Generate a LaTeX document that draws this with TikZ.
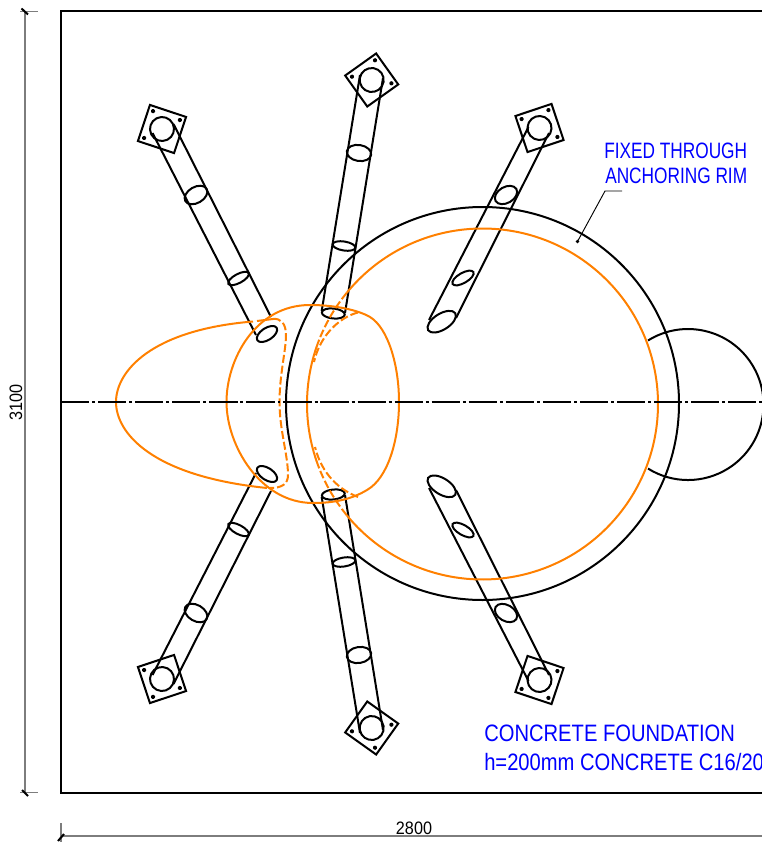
\documentclass[tikz,border=0pt]{standalone}
\usepackage{graphicx}
\usepackage{fontspec}
\setmainfont{Liberation Sans}
\definecolor{cadorange}{RGB}{255,128,0}
\definecolor{dimgray}{RGB}{125,125,125}
\tikzset{
  main/.style={line width=1.5pt,black},
  orangeline/.style={line width=1.5pt,cadorange},
  orangedash/.style={line width=1.5pt,cadorange,dash pattern=on 6pt off 2.2pt},
  axisline/.style={line width=1.5pt,black,dash pattern=on 21.2pt off 2.2pt on 2.2pt off 2.2pt},
  dimline/.style={line width=1pt,dimgray},
  dimtick/.style={line width=1.5pt,black},
  note/.style={text=blue,inner sep=0pt,anchor=base west,font=\fontsize{16.7}{18}\selectfont},
  bignote/.style={text=blue,inner sep=0pt,anchor=base west,font=\fontsize{17.8}{20}\selectfont},
  dimtext/.style={text=black,inner sep=0pt,font=\fontsize{13.5}{15}\selectfont},
}
\newcommand\ring[5]{\draw[main,shift={(#1,#2)},rotate=#3] (0,0) ellipse[x radius=#4,y radius=#5];}
\newcommand\footplate[3]{%
  \begin{scope}[shift={(#1,#2)},rotate=#3]
    \draw[main] (26.9,0) -- (0,26.9) -- (-26.9,0) -- (0,-26.9) -- cycle;
    \draw[main] (0,0) circle[radius=12];
    \fill (-20,0) circle[radius=2.1];
    \fill (0,20) circle[radius=2.1];
    \fill (0,-20) circle[radius=2.1];
  \end{scope}}
\begin{document}
\begin{tikzpicture}[x=.75pt,y=-.75pt]
\useasboundingbox (0,0) rectangle (762,842);
\clip (0,0) rectangle (762,842);
% frame
\draw[main] (780,11.5) -- (61,11.5) -- (61,792.5) -- (780,792.5);
% dimensions
\coordinate (dv1) at (25,11.5);
\coordinate (dv2) at (25,792.8);
\coordinate (dh1) at (61,836);
\coordinate (dh2) at (780,836);
\draw[dimline] (dv1) -- (dv2);
\draw[dimline] (20,11.5) -- (38,11.5);
\draw[dimline] (20,792.8) -- (38,792.8);
\draw[dimline] (dh1) -- (dh2);
\draw[dimline] (61,823) -- (61,842);
\draw[dimtick] (21.5,8.5) -- (28,14.5);
\draw[dimtick] (22,790) -- (28,796);
\draw[dimtick] (58,841) -- (64,834);
\node[dimtext,rotate=90] (lblv) at (16,402) {\scalebox{.9}[1]{3100}};
\node[dimtext,anchor=base] (lblh) at (414,834) {\scalebox{.9}[1]{2800}};
% circles
\draw[main] (482.5,403.5) circle[radius=196.5];
\draw[main] (648,340.5) arc[start angle=-122,end angle=122,radius=75.5];
% tubes
\foreach \m in {1,-1}{
\begin{scope}[shift={(0,404)},yscale=\m,shift={(0,-404)}]
  \footplate{162}{129}{-63.4}
  \draw[main] (152.5,133) -- (256,335);
  \draw[main] (173.5,124) -- (271,317);
  \ring{196}{195}{30}{12.3}{8}
  \ring{238.5}{278.5}{28}{11.5}{4.5}
  \ring{267}{334}{33}{11.5}{6}
  \footplate{371.7}{80}{-99.5}
  \draw[main] (360,75) -- (321.7,311);
  \draw[main] (383,78) -- (345,313);
  \ring{359}{153}{-9}{12.3}{8}
  \ring{344}{246}{-9}{11.5}{4.5}
  \ring{333.3}{313.5}{-6}{11.5}{5}
  \footplate{539.5}{128}{-116.5}
  \draw[main] (528.5,127) -- (429,320);
  \draw[main] (549,133) -- (456,318);
  \ring{506}{195}{30}{12}{8}
  \ring{463}{278}{30}{12}{5}
  \ring{441.7}{321.7}{32}{16}{8}
\end{scope}}
% orange
\draw[orangeline] (482.5,404) ++(219.3:175.5) arc[start angle=219.3,end angle=500.7,radius=175.5];
\draw[orangeline] (482.5,404) ++(201.5:175.5) arc[start angle=201.5,end angle=158.5,radius=175.5];
\draw[orangedash] (482.5,404) ++(219.3:175.5) arc[start angle=219.3,end angle=201.5,radius=175.5];
\draw[orangedash] (482.5,404) ++(140.7:175.5) arc[start angle=140.7,end angle=158.5,radius=175.5];
\draw[orangedash] (358,312.5) .. controls (340,317) and (320,335) .. (314,362);
\draw[orangedash] (358,497) .. controls (340,490) and (322,475) .. (315,447);
\draw[orangeline] (226.5,402) .. controls (226.5,360) and (255,305) .. (310,305)
  .. controls (335,305) and (358,310) .. (370,317)
  .. controls (388,328) and (399,365) .. (399,402)
  .. controls (399,440) and (388,478) .. (367,490)
  .. controls (352,499) and (335,503) .. (313,503)
  .. controls (260,503) and (226.5,445) .. cycle;
\draw[orangeline] (253,321.5) .. controls (150,330) and (116,372) .. (116,402)
  .. controls (116,432) and (150,476) .. (267,488);
\draw[orangeline] (257,321) -- (273,319);
\draw[orangedash] (273,319) .. controls (281,318) and (286,324) .. (286,335)
  .. controls (286,350) and (279.5,375) .. (279.5,402)
  .. controls (279.5,430) and (288,455) .. (288,475)
  .. controls (288,484) and (282,488) .. (270,488);
% axis
\draw[axisline] (61,402) -- (780,402);
% leader
\coordinate (ldA) at (622,191);
\coordinate (ldB) at (605,191);
\coordinate (ldC) at (577.5,241.5);
\draw[line width=.7pt] (ldA) -- (ldB) -- (ldC);
\fill (ldC) circle[radius=1.8];
% notes
\node[note] (n1) at (604,158) {\scalebox{.775}[1]{FIXED THROUGH}};
\node[note] (n2) at (605,183) {\scalebox{.775}[1]{ANCHORING RIM}};
\node[bignote] (n3) at (484,741) {\scalebox{.85}[1]{CONCRETE FOUNDATION}};
\node[bignote] (n4) at (484,770) {\scalebox{.85}[1]{h=200mm CONCRETE C16/20}};
\end{tikzpicture}
\end{document}
